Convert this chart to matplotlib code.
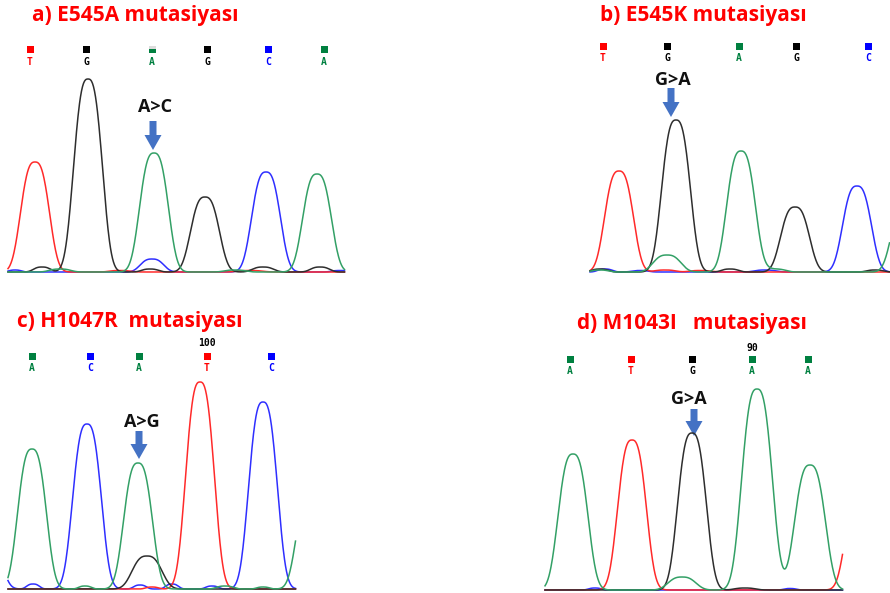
import numpy as np
import matplotlib.pyplot as plt
from matplotlib.patches import FancyArrow, Rectangle

W, H = 890, 593

TRACE_COLORS = {'T': '#ff2a2a', 'G': '#2e2e2e', 'A': '#33a066', 'C': '#2f2fff'}
CALL_COLORS = {'T': '#ff0000', 'G': '#000000', 'A': '#008040', 'C': '#0000ff'}

# peaks: (position px, height px, width)
# a) E545A
a_T = [(35, 110, 13.5), (120, 1.5, 10), (250, 1.5, 12)]
a_G = [(88, 193, 13.5), (205, 75, 13.5), (42, 5, 8), (150, 3, 8), (263, 5, 10), (320, 5, 9)]
a_A = [(154, 119, 13.5), (317, 98, 13.5), (60, 3, 10), (235, 2, 10)]
a_C = [(266, 100, 13.5), (152, 13, 11), (15, 2, 6), (340, 1.5, 8)]
a_calls = ['T', 'G', 'A', 'G', 'C', 'A']
a_call_x = [30, 86, 152, 207, 268, 324]

# b) E545K
b_T = [(619, 101, 13.5), (665, 2, 10), (700, 1.5, 10)]
b_G = [(676, 152, 13.5), (795, 65, 13.5), (600, 3, 8), (730, 3, 8), (875, 2, 8)]
b_A = [(741, 121, 13.5), (667, 17, 13), (906, 70, 13.5), (775, 3, 10), (600, 2, 8)]
b_C = [(857, 86, 13.5), (605, 3, 7), (640, 1.5, 8), (765, 2, 10)]
b_calls = ['T', 'G', 'A', 'G', 'C']
b_call_x = [603, 667, 739, 796, 868]

# c) H1047R
c_T = [(200, 207, 13.5), (152, 2, 6)]
c_G = [(147, 33, 14)]
c_A = [(32, 140, 13.5), (138, 126, 13.5), (311, 100, 13.5), (85, 3, 6), (225, 3, 8), (263, 2, 6)]
c_C = [(87, 165, 13.5), (263, 187, 13.5), (-14, 60, 13.5), (33, 5, 6), (140, 4, 6), (172, 5, 6),
       (212, 3, 6)]
c_calls = ['A', 'C', 'A', 'T', 'C']
c_call_x = [32, 90, 139, 207, 271]

# d) M1043I
d_T = [(632, 150, 13.5), (860, 100, 13.5)]
d_G = [(692, 157, 13.5), (745, 2, 10)]
d_A = [(573, 136, 14), (757, 201, 14.5), (810, 125, 14.5), (682, 13, 13)]
d_C = [(595, 2, 6), (790, 1.5, 6)]
d_calls = ['A', 'T', 'G', 'A', 'A']
d_call_x = [570, 631, 692, 752, 808]


def trace(x, peaks):
    y = np.zeros_like(x)
    for c, h, s in peaks:
        y += h * np.exp(-0.5 * (np.abs(x - c) / s) ** 2.8)
    return y


def make_axes(fig, left, top, width, height, baseline):
    ax = fig.add_axes([left / W, 1 - (top + height) / H, width / W, height / H])
    ax.set_xlim(left, left + width)
    ax.set_ylim(baseline - (top + height), baseline - top)
    ax.axis('off')
    return ax


def draw_calls(ax, baseline, xs, calls, sq_y, txt_y, mixed=None):
    for i, (x, b) in enumerate(zip(xs, calls)):
        col = CALL_COLORS[b]
        ax.add_patch(Rectangle((x - 3.5, baseline - sq_y - 3.5), 7, 7, color=col, lw=0))
        if mixed is not None and i == mixed:
            ax.add_patch(Rectangle((x - 3.5, baseline - sq_y), 7, 3.5, color='#dcdcdc', lw=0))
        ax.text(x, baseline - txt_y, b, color=col, ha='center', va='center',
                fontsize=7, family='DejaVu Sans Mono', fontweight='bold')


def draw_arrow(ax, baseline, x, top, tip, label, label_x, label_y):
    ax.add_patch(FancyArrow(x, baseline - top, 0, -(tip - top), width=7, head_width=17,
                            head_length=15, length_includes_head=True,
                            color='#4472c4', lw=0))
    ax.text(label_x, baseline - label_y, label, ha='center', va='center', fontsize=13,
            family='Open Sans', fontweight='bold', color='#111111')


def draw_traces(ax, x0, x1, peaks_by_base):
    x = np.arange(x0, x1, 0.5)
    for b in ['C', 'T', 'G', 'A']:
        ax.plot(x, trace(x, peaks_by_base[b]), color=TRACE_COLORS[b], lw=1.1)


def title(ax, baseline, x, y, s):
    ax.text(x, baseline - y, s, ha='left', va='center', fontsize=15,
            family='Open Sans', fontweight='bold', color='#ff0000')


fig = plt.figure(figsize=(W / 100, H / 100), dpi=100)

# a
ax = make_axes(fig, 0, 0, 445, 296, 272)
draw_traces(ax, 8, 345, {'T': a_T, 'G': a_G, 'A': a_A, 'C': a_C})
draw_calls(ax, 272, a_call_x, a_calls, 49, 62, mixed=2)
draw_arrow(ax, 272, 153, 121, 150, 'A>C', 155, 107)
title(ax, 272, 32, 16, 'a) E545A mutasiyası')

# b
ax = make_axes(fig, 445, 0, 445, 296, 272)
draw_traces(ax, 590, 890, {'T': b_T, 'G': b_G, 'A': b_A, 'C': b_C})
draw_calls(ax, 272, b_call_x, b_calls, 46, 58)
draw_arrow(ax, 272, 671, 88, 117, 'G>A', 673, 80)
title(ax, 272, 600, 15, 'b) E545K mutasiyası')

# c
ax = make_axes(fig, 0, 296, 445, 297, 589)
draw_traces(ax, 8, 296, {'T': c_T, 'G': c_G, 'A': c_A, 'C': c_C})
draw_calls(ax, 589, c_call_x, c_calls, 356, 368)
ax.text(207, 589 - 343, '100', ha='center', va='center', fontsize=7,
        family='DejaVu Sans Mono', fontweight='bold')
draw_arrow(ax, 589, 139, 431, 459, 'A>G', 142, 422)
title(ax, 589, 17, 322, 'c) H1047R  mutasiyası')

# d
ax = make_axes(fig, 445, 296, 445, 297, 590)
draw_traces(ax, 545, 843, {'T': d_T, 'G': d_G, 'A': d_A, 'C': d_C})
draw_calls(ax, 590, d_call_x, d_calls, 359, 371)
ax.text(752, 590 - 348, '90', ha='center', va='center', fontsize=7,
        family='DejaVu Sans Mono', fontweight='bold')
draw_arrow(ax, 590, 694, 409, 436, 'G>A', 689, 399)
title(ax, 590, 577, 323, 'd) M1043I   mutasiyası')

fig.savefig('out.png', dpi=100)
